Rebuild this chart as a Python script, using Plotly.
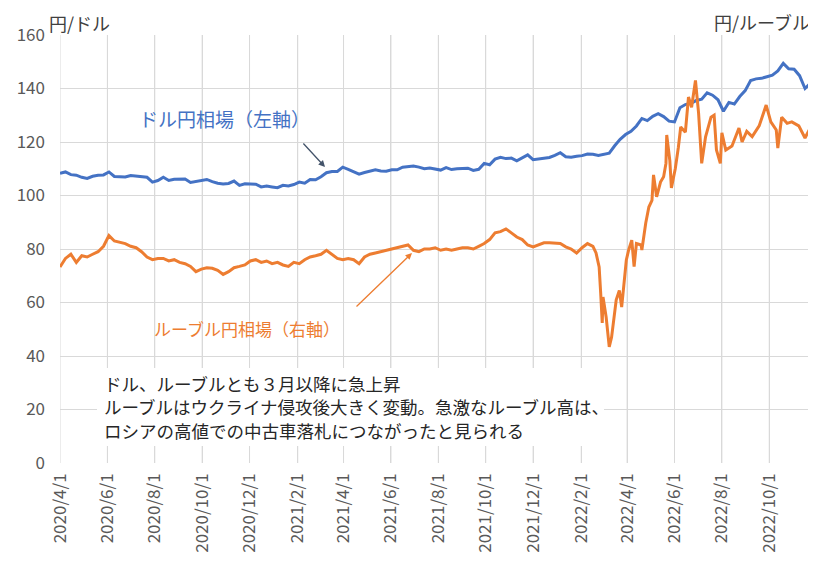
import pandas as pd
import plotly.graph_objects as go

# ---------------- data ----------------
# USD/JPY weekly (yen per dollar), weekly from 2020-04-01
usd_jpy = [
    108.3, 108.8, 107.8, 107.6, 106.8, 106.4, 107.2, 107.6, 107.7, 108.8,
    107.1, 107.0, 106.9, 107.5, 107.3, 107.0, 106.8, 105.0, 105.6, 106.8,
    105.6, 106.1, 106.1, 106.2, 104.9, 105.3, 105.5, 106.0, 105.2, 104.6,
    104.3, 104.5, 105.4, 103.8, 104.4, 104.4, 104.2, 103.2, 103.5, 103.2,
    102.9, 103.8, 103.6, 104.1, 105.0, 104.6, 106.0, 105.9, 107.0, 108.5,
    109.0, 109.0, 110.6, 109.8, 108.9, 108.0, 108.6, 109.2, 109.6, 109.2,
    109.1, 109.6, 109.6, 110.6, 110.9, 111.0, 110.6, 110.0, 110.3, 109.9,
    109.5, 110.4, 109.7, 110.0, 110.0, 110.2, 109.4, 109.8, 112.0, 111.5,
    113.6, 114.3, 113.8, 114.0, 113.0, 114.2, 115.2, 113.4, 113.6, 114.0,
    114.2, 115.0, 116.0, 114.5, 114.3, 114.7, 114.9, 115.5, 115.4, 115.0,
    115.3, 115.8, 118.6, 121.0, 122.8, 124.0, 126.0, 128.8, 128.0, 129.6,
    130.6, 129.5, 127.8, 127.5, 132.8, 134.0, 134.5, 135.5, 136.0, 138.4,
    137.5, 135.8, 131.5, 134.8, 134.2, 137.0, 139.2, 143.0, 143.6, 143.8,
    144.4, 145.0, 146.6, 149.4, 147.4, 147.2, 144.8, 140.0, 142.0,
]

# RUB/JPY (yen per ruble): weekly from 2020-04-01 to 2022-02-16
rub_jpy_weekly = [
    1.374, 1.434, 1.463, 1.406, 1.453, 1.444, 1.463, 1.481, 1.519, 1.594,
    1.556, 1.547, 1.538, 1.519, 1.509, 1.481, 1.444, 1.425, 1.434, 1.434,
    1.416, 1.425, 1.406, 1.397, 1.378, 1.341, 1.359, 1.369, 1.365, 1.350,
    1.322, 1.341, 1.369, 1.378, 1.388, 1.416, 1.425, 1.406, 1.416, 1.397,
    1.406, 1.388, 1.378, 1.406, 1.397, 1.425, 1.444, 1.453, 1.463, 1.491,
    1.463, 1.434, 1.425, 1.434, 1.425, 1.397, 1.444, 1.463, 1.472, 1.481,
    1.491, 1.500, 1.509, 1.519, 1.528, 1.491, 1.481, 1.500, 1.500, 1.509,
    1.491, 1.500, 1.491, 1.500, 1.509, 1.509, 1.500, 1.519, 1.538, 1.566,
    1.613, 1.622, 1.641, 1.613, 1.584, 1.566, 1.528, 1.515, 1.528, 1.543,
    1.543, 1.538, 1.538, 1.515, 1.500, 1.472, 1.509, 1.538, 1.519,
]

# RUB/JPY after the invasion (denser sampling)
rub_dates_2022 = [
    "2022-02-20", "2022-02-24", "2022-02-26", "2022-02-28", "2022-03-01",
    "2022-03-05", "2022-03-09", "2022-03-12", "2022-03-18", "2022-03-22",
    "2022-03-25", "2022-03-31", "2022-04-03", "2022-04-07", "2022-04-10",
    "2022-04-13", "2022-04-19", "2022-04-20", "2022-04-25", "2022-04-29",
    "2022-05-03", "2022-05-05", "2022-05-09", "2022-05-14", "2022-05-18",
    "2022-05-21", "2022-05-22", "2022-05-26", "2022-05-28", "2022-06-02",
    "2022-06-06", "2022-06-09", "2022-06-15", "2022-06-19", "2022-06-23",
    "2022-06-28", "2022-07-02", "2022-07-06", "2022-07-11", "2022-07-18",
    "2022-07-22", "2022-07-25", "2022-07-30", "2022-08-01", "2022-08-06",
    "2022-08-14", "2022-08-23", "2022-08-27", "2022-09-02", "2022-09-09",
    "2022-09-18", "2022-09-27", "2022-10-03", "2022-10-10", "2022-10-12",
    "2022-10-17", "2022-10-24", "2022-10-30", "2022-11-08", "2022-11-16",
    "2022-11-24",
]
rub_values_2022 = [
    1.472, 1.374, 1.191, 0.981, 1.163,
    1.024, 0.814, 0.881, 1.144, 1.209,
    1.093, 1.423, 1.493, 1.562, 1.376,
    1.538, 1.528, 1.493, 1.682, 1.794,
    1.841, 2.019, 1.866, 1.969, 2.006,
    2.100, 2.299, 2.119, 1.928, 2.063,
    2.213, 2.355, 2.319, 2.565, 2.494,
    2.681, 2.453, 2.100, 2.286, 2.424,
    2.438, 2.194, 2.100, 2.314, 2.194,
    2.222, 2.348, 2.250, 2.325, 2.288,
    2.363, 2.509, 2.391, 2.334, 2.207,
    2.424, 2.381, 2.391, 2.363, 2.278,
    2.363,
]

tick_vals = ["2020-04-01", "2020-06-01", "2020-08-01", "2020-10-01", "2020-12-01",
             "2021-02-01", "2021-04-01", "2021-06-01", "2021-08-01", "2021-10-01",
             "2021-12-01", "2022-02-01", "2022-04-01", "2022-06-01", "2022-08-01",
             "2022-10-01"]
tick_text = ["2020/4/1", "2020/6/1", "2020/8/1", "2020/10/1", "2020/12/1",
             "2021/2/1", "2021/4/1", "2021/6/1", "2021/8/1", "2021/10/1",
             "2021/12/1", "2022/2/1", "2022/4/1", "2022/6/1", "2022/8/1",
             "2022/10/1"]

# ---------------- build ----------------
usd_dates = pd.date_range("2020-04-01", periods=len(usd_jpy), freq="7D")
rub_dates = list(pd.date_range("2020-04-01", periods=len(rub_jpy_weekly), freq="7D")) + \
    list(pd.to_datetime(rub_dates_2022))
rub_vals = rub_jpy_weekly + rub_values_2022

BLUE = "#4472C4"
ORANGE = "#ED7D31"
GRID = "#d9d9d9"
FONT = "Noto Sans CJK JP, Noto Sans, sans-serif"

fig = go.Figure()
fig.add_trace(go.Scatter(x=usd_dates, y=usd_jpy, mode="lines",
                         line=dict(color=BLUE, width=3), name="ドル円相場（左軸）"))
fig.add_trace(go.Scatter(x=rub_dates, y=rub_vals, mode="lines", yaxis="y2",
                         line=dict(color=ORANGE, width=3), name="ルーブル円相場（右軸）"))

# page body has an 8px margin; target plot area (screen px): x 60..812, y 35..463
OFF = 8
FW, FH = 808, 559
W0, W1 = 60, 812
T0, B0 = 35, 463


def px(x):
    return (x - W0) / (W1 - W0)


def py(y):
    return (B0 - y) / (B0 - T0)


fig.update_layout(
    width=FW, height=FH,
    margin=dict(l=W0 - OFF, r=FW - (W1 - OFF), t=T0 - OFF, b=FH - (B0 - OFF), autoexpand=False),
    paper_bgcolor="white", plot_bgcolor="white",
    showlegend=False,
    font=dict(family=FONT, color="#595959", size=15),
    xaxis=dict(
        range=["2020-04-01", "2022-11-25"],
        tickmode="array", tickvals=tick_vals, ticktext=tick_text, tickangle=-90,
        showgrid=True, gridcolor=GRID, gridwidth=1,
        showline=False, zeroline=False, ticks="", automargin=False,
        ticklabelstandoff=6,
        tickfont=dict(size=17, color="#595959"),
    ),
    yaxis=dict(
        range=[0, 160], dtick=20, tick0=0,
        showgrid=True, gridcolor=GRID, gridwidth=1,
        zeroline=False, showline=False, ticks="", automargin=False,
        ticklabelstandoff=14,
        tickfont=dict(size=17, color="#595959"),
    ),
    yaxis2=dict(
        range=[0, 3.0], overlaying="y", side="right",
        showgrid=False, showticklabels=False, zeroline=False, showline=False,
    ),
)

# vertical grid lines at each tick date (drawn between grid and traces)
for tv in tick_vals:
    fig.add_shape(type="line", xref="x", yref="paper", x0=tv, x1=tv, y0=0, y1=1,
                  line=dict(color=GRID, width=1), layer="between")

# white box behind the commentary text
fig.add_shape(type="rect", xref="paper", yref="paper",
              x0=px(97), x1=px(604), y0=py(446), y1=py(368),
              fillcolor="white", line=dict(width=0), layer="above")

ann = []
ann.append(dict(text="円/ドル", xref="paper", yref="paper", x=px(47), y=py(23),
                xanchor="left", yanchor="middle", showarrow=False,
                font=dict(size=18, color="#404040")))
ann.append(dict(text="円/ルーブル", xref="paper", yref="paper", x=px(812), y=py(22),
                xanchor="right", yanchor="middle", showarrow=False,
                font=dict(size=18, color="#404040")))
ann.append(dict(text="ドル円相場（左軸）", xref="paper", yref="paper", x=px(224), y=py(118),
                xanchor="center", yanchor="middle", showarrow=False,
                font=dict(size=19, color=BLUE)))
ann.append(dict(text="ルーブル円相場（右軸）", xref="paper", yref="paper", x=px(247), y=py(328),
                xanchor="center", yanchor="middle", showarrow=False,
                font=dict(size=17, color=ORANGE)))
ann.append(dict(text="", xref="paper", yref="paper", x=px(325), y=py(167),
                ax=-23, ay=-25, showarrow=True, arrowhead=2, arrowsize=1,
                arrowwidth=1.3, arrowcolor="#44546A"))
ann.append(dict(text="", xref="paper", yref="paper", x=px(412), y=py(253),
                ax=-57, ay=55, showarrow=True, arrowhead=2, arrowsize=1,
                arrowwidth=1.3, arrowcolor=ORANGE))
lines = ["ドル、ルーブルとも３月以降に急上昇",
         "ルーブルはウクライナ侵攻後大きく変動。急激なルーブル高は、",
         "ロシアの高値での中古車落札につながったと見られる"]
for txt, yy in zip(lines, [383, 406, 430]):
    ann.append(dict(text=txt, xref="paper", yref="paper", x=px(102), y=py(yy),
                    xanchor="left", yanchor="middle", showarrow=False,
                    font=dict(size=17.5, color="#262626")))
fig.update_layout(annotations=ann)

fig.write_html("out.html")
